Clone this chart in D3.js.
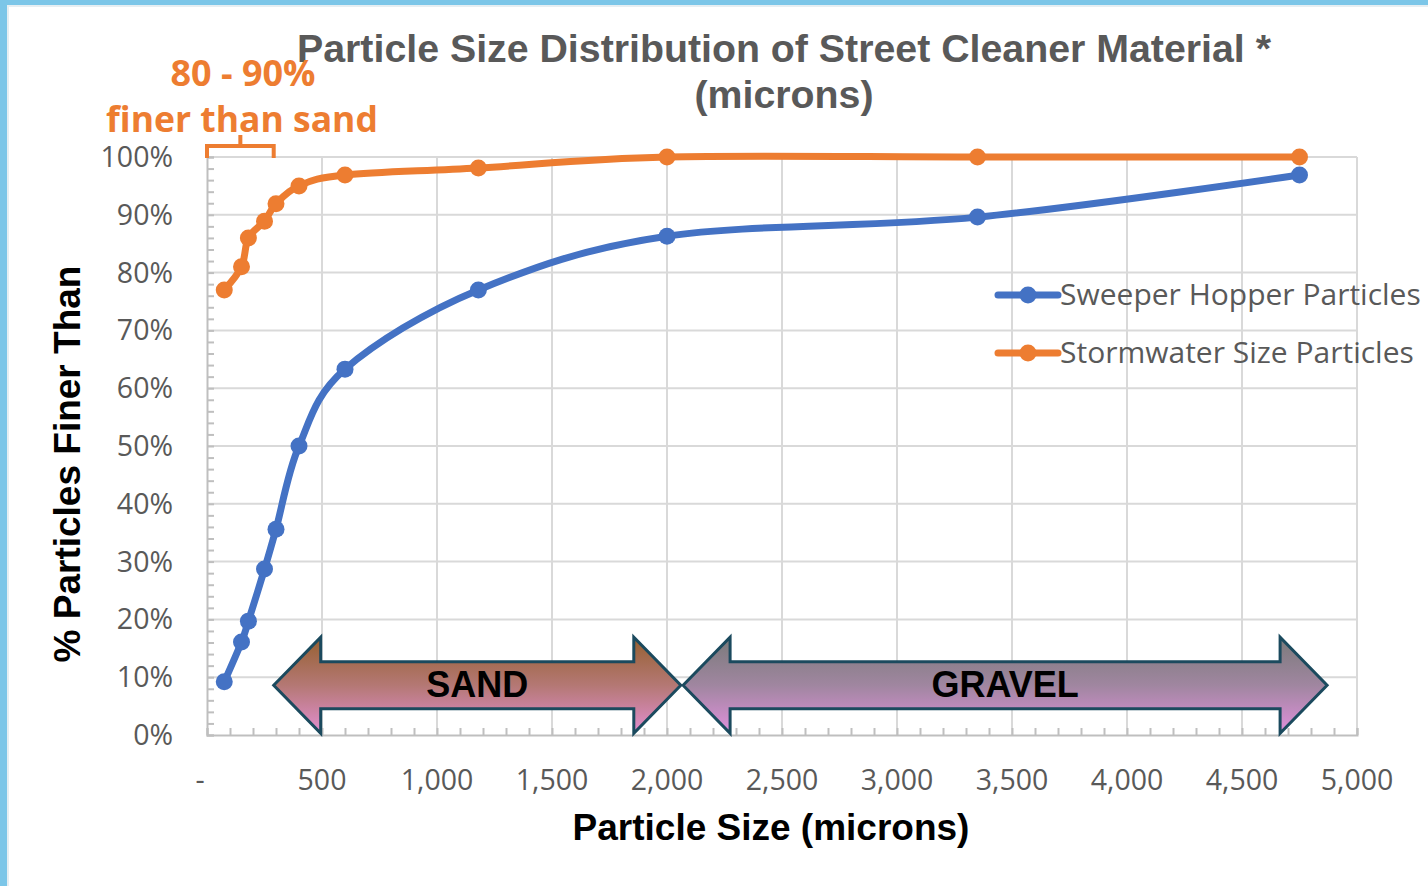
<!DOCTYPE html>
<html lang="en">
<head>
<meta charset="UTF-8">
<title>Particle Size Distribution of Street Cleaner Material</title>
<script src="https://cdn.jsdelivr.net/npm/d3@7"></script>
<style>
  html, body { margin: 0; padding: 0; background: #fff; }
  svg { display: block; }
  .tick-label { font-family: "Open Sans", "Noto Sans", sans-serif; fill: #595959; }
  .title { font-family: "Liberation Sans", Arial, sans-serif; font-weight: bold; fill: #595959; }
</style>
</head>
<body>
<div id="chart"></div>
<script>
// sieve sizes in microns and % finer for each sample
var sizes = [75, 150, 180, 250, 300, 400, 600, 1180, 2000, 3350, 4750];
var hopper = [9.2, 16.1, 19.7, 28.7, 35.6, 50.0, 63.3, 77.0, 86.3, 89.6, 96.9];
var stormwater = [77.0, 81.0, 86.0, 88.9, 91.9, 95.0, 96.9, 98.1, 100, 100, 100];

var seriesNames = ["Sweeper Hopper Particles", "Stormwater Size Particles"];
var seriesColors = ["#4472C4", "#ED7D31"];

var xTicks = [0, 500, 1000, 1500, 2000, 2500, 3000, 3500, 4000, 4500, 5000];
var yTicks = [0, 10, 20, 30, 40, 50, 60, 70, 80, 90, 100];

// soil classes drawn as double arrows (microns)
var bandNames = ["SAND", "GRAVEL"];
var bandFrom = [290, 2070];
var bandTo = [2060, 4870];

var W = 1428, H = 886;
var x = d3.scaleLinear().domain([0, 5000]).range([207, 1357]);
var y = d3.scaleLinear().domain([0, 100]).range([735, 157]);

var svg = d3.select("#chart").append("svg")
	.attr("width", W).attr("height", H);

// slide background strips
svg.append("rect").attr("width", W).attr("height", H).attr("fill", "#7cc6e8");
svg.append("rect").attr("x", 7).attr("y", 5).attr("width", W - 7).attr("height", H - 5)
	.attr("fill", "#e6eef2");
svg.append("rect").attr("x", 9).attr("y", 7).attr("width", W - 9).attr("height", H - 7)
	.attr("fill", "#fff");

var defs = svg.append("defs");
function grad(id, top, mid, bottom) {
	var g = defs.append("linearGradient").attr("id", id)
		.attr("x1", 0).attr("y1", 0).attr("x2", 0).attr("y2", 1);
	g.append("stop").attr("offset", "0%").attr("stop-color", top);
	g.append("stop").attr("offset", "50%").attr("stop-color", mid);
	g.append("stop").attr("offset", "100%").attr("stop-color", bottom);
}
grad("g0", "#966030", "#b47874", "#e28ed0");
grad("g1", "#7a7a7a", "#a086a0", "#e090dc");

// gridlines
svg.append("g").selectAll("line").data(xTicks.slice(1)).join("line")
	.attr("x1", x).attr("x2", x).attr("y1", y(0)).attr("y2", y(100))
	.attr("stroke", "#d9d9d9").attr("stroke-width", 2);
svg.append("g").selectAll("line").data(yTicks.slice(1)).join("line")
	.attr("x1", x(0)).attr("x2", x(5000)).attr("y1", y).attr("y2", y)
	.attr("stroke", "#d9d9d9").attr("stroke-width", 2);

// axes with minor ticks pointing inward
var xAxis = svg.append("g").attr("transform", "translate(0," + y(0) + ")")
	.call(d3.axisTop(x).ticks(50).tickSize(7).tickFormat(""));
var yAxis = svg.append("g").attr("transform", "translate(" + x(0) + ",0)")
	.call(d3.axisRight(y).ticks(50).tickSize(7).tickFormat(""));
[xAxis, yAxis].forEach(function (a) {
	a.selectAll("path, line").attr("stroke", "#bfbfbf").attr("stroke-width", 2);
});

// tick labels
svg.append("g").selectAll("text").data(xTicks).join("text")
	.attr("class", "tick-label")
	.attr("x", function (d) { return d === 0 ? x(d) - 7 : x(d); })
	.attr("y", 790).attr("text-anchor", "middle").attr("font-size", 28.5)
	.text(function (d) { return d === 0 ? "-" : d3.format(",")(d); });
svg.append("g").selectAll("text").data(yTicks).join("text")
	.attr("class", "tick-label")
	.attr("x", 173).attr("y", function (d) { return y(d) + 10; })
	.attr("text-anchor", "end").attr("font-size", 28.5)
	.text(function (d) { return d + "%"; });

// band arrows
var cy = y(8.6), headH = 48, shaftH = 23.5, headL = 47;
bandNames.forEach(function (name, i) {
	var x0 = x(bandFrom[i]), x1 = x(bandTo[i]);
	var pts = [[x0, cy], [x0 + headL, cy - headH], [x0 + headL, cy - shaftH],
		[x1 - headL, cy - shaftH], [x1 - headL, cy - headH], [x1, cy],
		[x1 - headL, cy + headH], [x1 - headL, cy + shaftH], [x0 + headL, cy + shaftH],
		[x0 + headL, cy + headH]];
	svg.append("path").attr("d", d3.line()(pts) + "Z")
		.attr("fill", "url(#g" + i + ")").attr("stroke", "#1b4a5e")
		.attr("stroke-width", 3).attr("stroke-linejoin", "miter");
	svg.append("text").attr("x", (x0 + x1) / 2).attr("y", cy + 12)
		.attr("text-anchor", "middle").attr("font-size", 36).attr("font-weight", "bold")
		.attr("font-family", i === 1 ? "'Liberation Sans Narrow', 'Liberation Sans', sans-serif" : "'Liberation Sans', sans-serif")
		.attr("fill", "#000").text(name);
});

// series
var line = d3.line().curve(d3.curveCardinal.tension(0))
	.x(function (d) { return x(d[0]); }).y(function (d) { return y(d[1]); });
[hopper, stormwater].forEach(function (vals, i) {
	var pts = sizes.map(function (s, j) { return [s, vals[j]]; });
	svg.append("path").attr("d", line(pts)).attr("fill", "none")
		.attr("stroke", seriesColors[i]).attr("stroke-width", 7)
		.attr("stroke-linejoin", "round");
	svg.append("g").selectAll("circle").data(pts).join("circle")
		.attr("cx", function (d) { return x(d[0]); }).attr("cy", function (d) { return y(d[1]); })
		.attr("r", 8.5).attr("fill", seriesColors[i]);
});

// legend
seriesNames.forEach(function (name, i) {
	var ly = 295 + i * 58;
	svg.append("line").attr("x1", 998).attr("x2", 1058).attr("y1", ly).attr("y2", ly)
		.attr("stroke", seriesColors[i]).attr("stroke-width", 7).attr("stroke-linecap", "round");
	svg.append("circle").attr("cx", 1028).attr("cy", ly).attr("r", 8.5).attr("fill", seriesColors[i]);
	svg.append("text").attr("class", "tick-label").attr("x", 1060).attr("y", ly + 10)
		.attr("font-size", 30).text(name);
});

// title
svg.append("text").attr("class", "title").attr("x", 784).attr("y", 62)
	.attr("text-anchor", "middle").attr("font-size", 39.3)
	.text("Particle Size Distribution of Street Cleaner Material *");
svg.append("text").attr("class", "title").attr("x", 784).attr("y", 108)
	.attr("text-anchor", "middle").attr("font-size", 39.3).text("(microns)");

// axis titles
svg.append("text").attr("x", 771).attr("y", 840).attr("text-anchor", "middle")
	.attr("font-family", "'Liberation Sans', sans-serif").attr("font-weight", "bold")
	.attr("font-size", 37).attr("fill", "#000").text("Particle Size (microns)");
svg.append("text").attr("transform", "translate(80,464) rotate(-90)")
	.attr("text-anchor", "middle")
	.attr("font-family", "'Liberation Sans', sans-serif").attr("font-weight", "bold")
	.attr("font-size", 37).attr("fill", "#000").text("% Particles Finer Than");

// annotation with bracket over the fine fraction
var orange = "#ED7D31";
svg.append("path")
	.attr("d", "M" + x(0) + "," + (y(100) + 1) + "V" + (y(100) - 11) + "H" + x(290)
		+ "V" + (y(100) + 1) + "M" + x(145) + "," + (y(100) - 11) + "V" + (y(100) - 22))
	.attr("fill", "none").attr("stroke", orange).attr("stroke-width", 4);
svg.append("text").attr("x", 243).attr("y", 86).attr("text-anchor", "middle")
	.attr("font-family", "'Open Sans', sans-serif").attr("font-weight", "bold")
	.attr("font-size", 36).attr("fill", orange).text("80 - 90%");
svg.append("text").attr("x", 242).attr("y", 132).attr("text-anchor", "middle")
	.attr("font-family", "'Open Sans', sans-serif").attr("font-weight", "bold")
	.attr("font-size", 35.5).attr("fill", orange).text("finer than sand");
</script>
</body>
</html>
